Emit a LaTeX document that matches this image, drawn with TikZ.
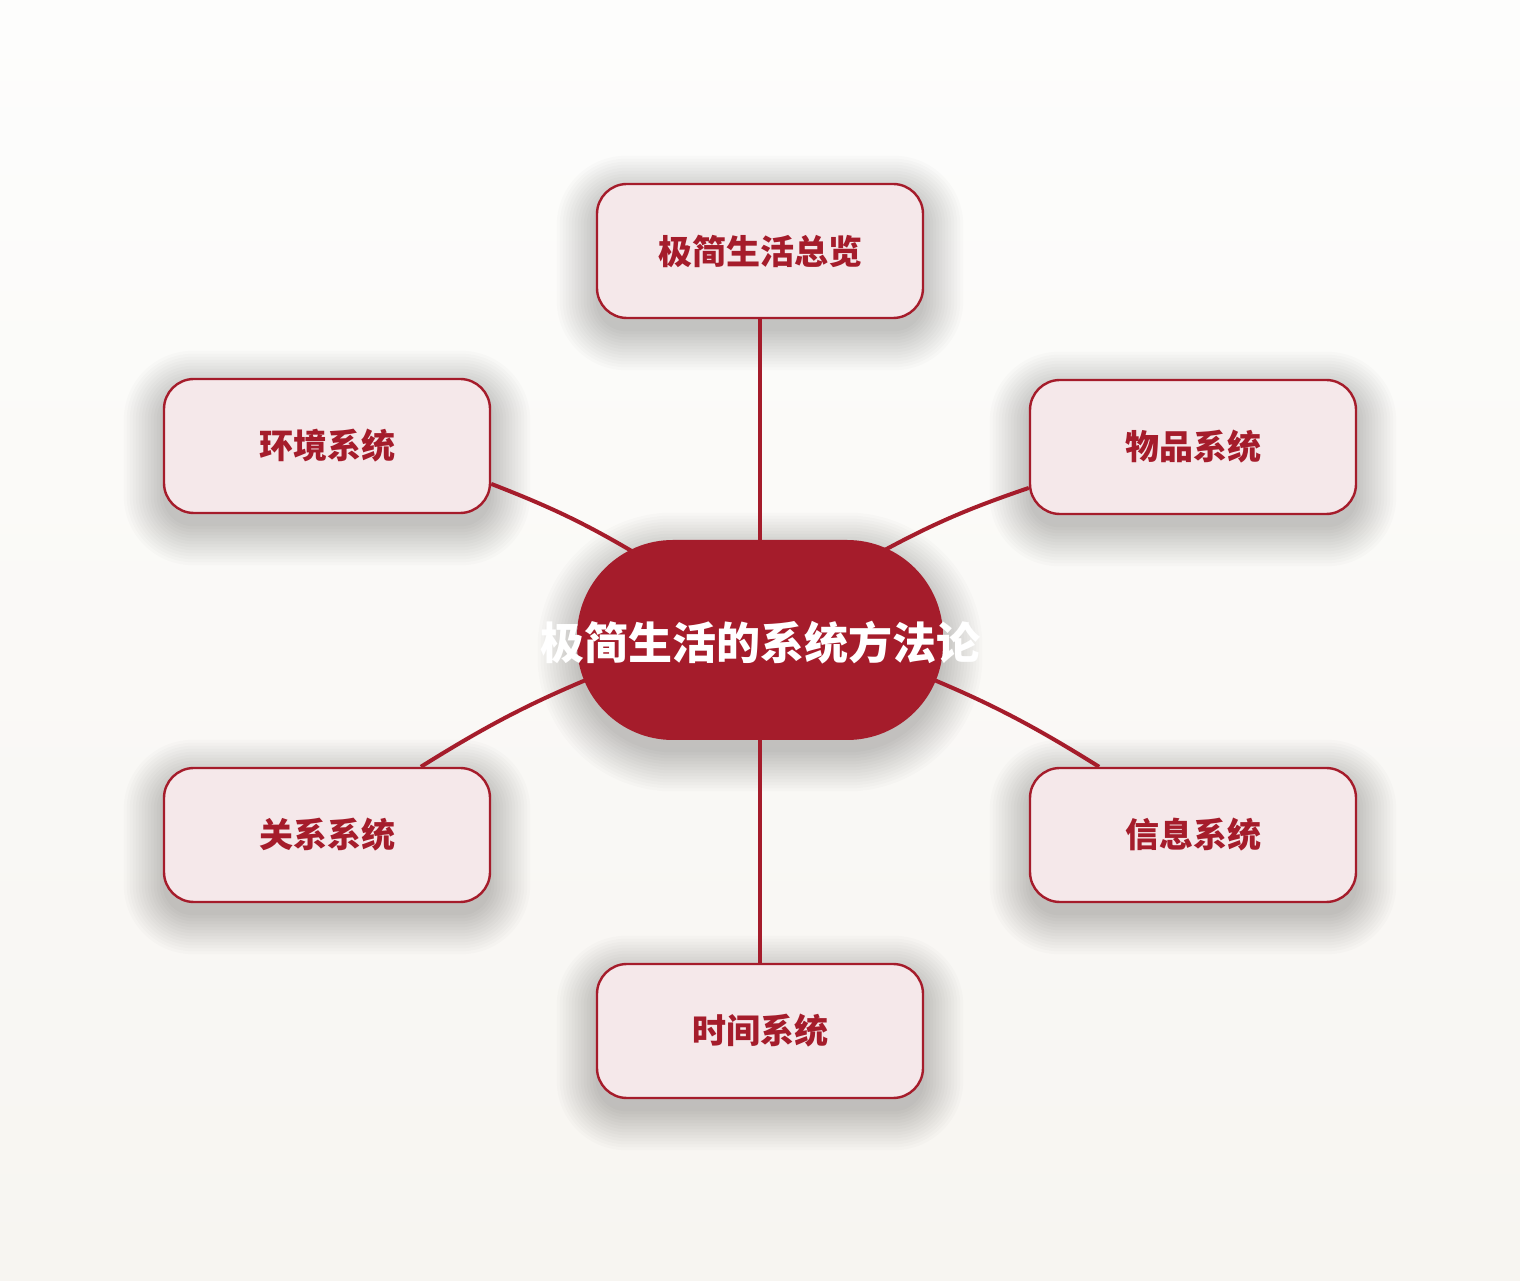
\documentclass[tikz,border=0pt]{standalone}
\usepackage{fontspec}
\newfontfamily\cjk{Noto Sans CJK SC}
\usetikzlibrary{calc}
\definecolor{dred}{HTML}{A51C2B}
\definecolor{pinkfill}{HTML}{F5E8EA}
\definecolor{bgtop}{HTML}{FDFDFC}
\definecolor{bgbot}{HTML}{F7F5F1}
\pgfdeclarelayer{bg}\pgfdeclarelayer{shadow}\pgfdeclarelayer{lines}
\pgfsetlayers{bg,shadow,lines,main}
\tikzset{
 sat/.style={draw=dred, line width=1.2pt, fill=pinkfill, rounded corners=15pt, minimum width=163pt, minimum height=67pt, inner sep=0pt, font=\cjk\bfseries\fontsize{17pt}{20pt}\selectfont, text=dred},
 hubshape/.style={fill=dred, rounded corners=48pt, minimum width=183pt, minimum height=100pt, inner sep=0pt},
 hubtext/.style={font=\cjk\bfseries\fontsize{22pt}{26pt}\selectfont, text=white, inner sep=0pt},
 conn/.style={draw=dred, line width=2pt},
 shadowpiece/.style={fill=black, opacity=0.014},
}
\newcommand\shadowfor[2]{%
 \begin{pgfonlayer}{shadow}
 \foreach \s in {0,1.5,...,19.5}{
  \pgfmathsetmacro\rr{#2+\s}
  \fill[shadowpiece, rounded corners=\rr pt] ($(#1.south west)+(-\s pt,-\s pt-6pt)$) rectangle ($(#1.north east)+(\s pt,\s pt-6pt)$);
 }
 \end{pgfonlayer}}
\begin{document}
\begin{tikzpicture}[x=0.5pt,y=0.5pt]
\useasboundingbox (0,0) rectangle (1520,1280);
\begin{pgfonlayer}{bg}
\shade[top color=bgtop,bottom color=bgbot] (0,0) rectangle (1520,1280);
\end{pgfonlayer}
\node[hubshape] (hub) at (760,640) {};
\node[hubtext] (hublabel) at (760,637) {极简生活的系统方法论};
\node[sat] (top) at (760,1029) {极简生活总览};
\node[sat] (env) at (327,834) {环境系统};
\node[sat] (goods) at (1193,833) {物品系统};
\node[sat] (rel) at (327,445) {关系系统};
\node[sat] (info) at (1193,445) {信息系统};
\node[sat] (time) at (760,249) {时间系统};
\coordinate (cUL) at (650,718);
\coordinate (cUR) at (870,722);
\coordinate (cLL) at (615,612);
\coordinate (cLR) at (905,612);
\shadowfor{hub}{48}
\shadowfor{top}{15}
\shadowfor{env}{15}
\shadowfor{goods}{15}
\shadowfor{rel}{15}
\shadowfor{info}{15}
\shadowfor{time}{15}
\begin{pgfonlayer}{lines}
\draw[conn] (top) -- (hub);
\draw[conn] (hub) -- (time);
\draw[conn] (env.-13) to[bend left=5] (cUL);
\draw[conn] (goods.194) to[bend right=5] (cUR);
\draw[conn] (rel.36) to[bend left=5] (cLL);
\draw[conn] (info.144) to[bend right=5] (cLR);
\end{pgfonlayer}
\end{tikzpicture}
\end{document}
